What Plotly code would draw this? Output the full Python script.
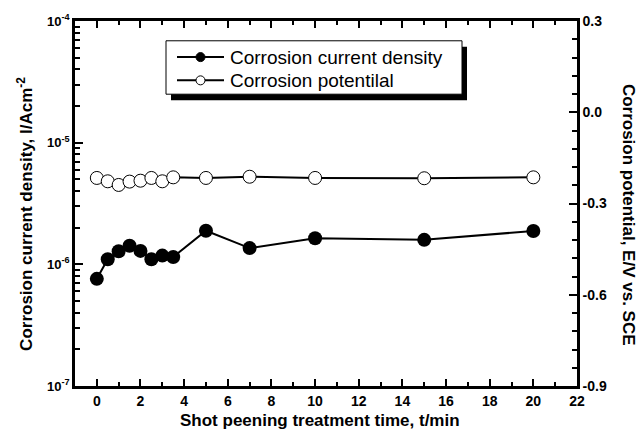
import plotly.graph_objects as go

time_min = [0, 0.5, 1, 1.5, 2, 2.5, 3, 3.5, 5, 7, 10, 15, 20]
current_density = [7.6e-7, 1.10e-6, 1.28e-6, 1.42e-6, 1.29e-6, 1.10e-6, 1.18e-6, 1.15e-6,
                   1.89e-6, 1.36e-6, 1.64e-6, 1.59e-6, 1.88e-6]
potential = [-0.216, -0.227, -0.239, -0.228, -0.225, -0.216, -0.227, -0.214,
             -0.216, -0.212, -0.216, -0.217, -0.214]

x_ticks = list(range(0, 23, 2))
y_log_ticks = [1e-7, 1e-6, 1e-5, 1e-4]
y_log_labels = ["10<sup>-7</sup>", "10<sup>-6</sup>", "10<sup>-5</sup>", "10<sup>-4</sup>"]
y2_ticks = [-0.9, -0.6, -0.3, 0.0, 0.3]
y2_labels = ["-0.9", "-0.6", "-0.3", "0.0", "0.3"]
series_names = ["Corrosion current density", "Corrosion potentilal"]

FONT = "Arial, Liberation Sans, sans-serif"

# plot area in pixels
L, R, T, B = 75, 577, 17, 386
W, H = R - L, B - T


def px(xp):
    return (xp - L) / W


def py(yp):
    return (B - yp) / H


minor_log = [m * 10 ** e for e in (-7, -6, -5) for m in range(2, 10)]

fig = go.Figure()
fig.add_trace(go.Scatter(
    x=time_min, y=current_density, name=series_names[0],
    mode="lines+markers",
    line=dict(color="black", width=2),
    marker=dict(symbol="circle", size=14, color="black"),
    yaxis="y", showlegend=False))
fig.add_trace(go.Scatter(
    x=time_min, y=potential, name=series_names[1],
    mode="lines+markers",
    line=dict(color="black", width=2),
    marker=dict(symbol="circle", size=13, color="white", line=dict(color="black", width=1)),
    yaxis="y2", showlegend=False))

axis_common = dict(showline=True, linecolor="black", linewidth=2.5, ticks="inside",
                   tickcolor="black", tickwidth=2, showgrid=False, zeroline=False,
                   tickfont=dict(family=FONT, size=14, color="black", weight="bold"))

fig.update_layout(
    width=640, height=434,
    margin=dict(l=L, r=640 - R, t=T, b=434 - B),
    paper_bgcolor="white", plot_bgcolor="white",
    showlegend=False,
    xaxis=dict(range=[-1, 22], tickmode="array", tickvals=x_ticks, ticklen=7,
               mirror="ticks",
               minor=dict(ticks="inside", dtick=1, tick0=0, ticklen=4, tickcolor="black", tickwidth=2),
               **axis_common),
    yaxis=dict(type="log", range=[-7, -4], tickmode="array", tickvals=y_log_ticks,
               ticktext=y_log_labels, ticklen=8, mirror=True,
               minor=dict(ticks="inside", tickmode="array", tickvals=minor_log, ticklen=5,
                          tickcolor="black", tickwidth=2),
               **{**axis_common, "tickfont": dict(family=FONT, size=13, color="black", weight="bold")}),
    yaxis2=dict(overlaying="y", side="right", range=[-0.9, 0.3], tickmode="array",
                tickvals=y2_ticks, ticktext=y2_labels, ticklen=8,
                minor=dict(ticks="inside", dtick=0.06, tick0=-0.9, ticklen=5,
                           tickcolor="black", tickwidth=2),
                **axis_common),
)

# ---- legend drawn by hand (box with drop shadow) ----
fig.add_shape(type="rect", xref="paper", yref="paper",
              x0=px(171), x1=px(467), y0=py(97), y1=py(43),
              fillcolor="black", line=dict(width=0), layer="above")
fig.add_shape(type="rect", xref="paper", yref="paper",
              x0=px(166), x1=px(462), y0=py(91), y1=py(37),
              fillcolor="white", line=dict(color="black", width=1), layer="above")
rows = [53.5, 77]
for i, (yrow, name) in enumerate(zip(rows, series_names)):
    fig.add_shape(type="line", xref="paper", yref="paper",
                  x0=px(177), x1=px(224), y0=py(yrow), y1=py(yrow),
                  line=dict(color="black", width=2), layer="above")
    fig.add_shape(type="circle", xref="paper", yref="paper",
                  xsizemode="pixel", ysizemode="pixel",
                  xanchor=px(200.5), yanchor=py(yrow),
                  x0=-4.5, x1=4.5, y0=-4.5, y1=4.5,
                  fillcolor="black" if i == 0 else "white",
                  line=dict(color="black", width=1), layer="above")
    fig.add_annotation(text=name, xref="paper", yref="paper",
                       x=px(228), y=py(yrow), xanchor="left", yanchor="middle",
                       showarrow=False,
                       font=dict(family=FONT, size=19, color="black"))

title_font = dict(family=FONT, size=17, color="black", weight="bold")
fig.add_annotation(text="Shot peening treatment time, t/min", xref="paper", yref="paper",
                   x=px(320), y=py(421), showarrow=False,
                   xanchor="center", yanchor="middle", font=title_font)
fig.add_annotation(text="Corrosion current density, I/Acm<sup>-2</sup>", xref="paper", yref="paper",
                   x=px(25), y=py(212), showarrow=False, textangle=-90,
                   xanchor="center", yanchor="middle", font=title_font)
fig.add_annotation(text="Corrosion potential, E/V vs. SCE", xref="paper", yref="paper",
                   x=px(628), y=py(213), showarrow=False, textangle=90,
                   xanchor="center", yanchor="middle", font=title_font)

fig.write_html("out.html")
